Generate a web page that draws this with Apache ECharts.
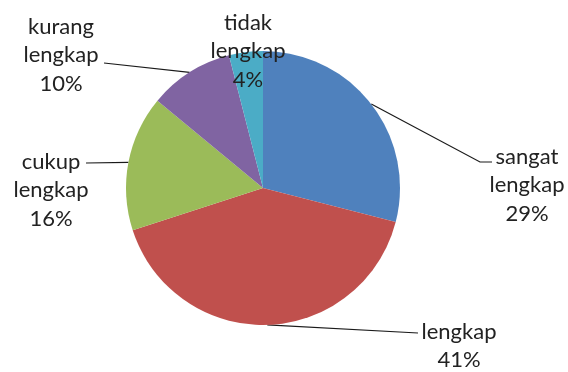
<!DOCTYPE html>
<html>
<head>
<meta charset="utf-8">
<script src="https://cdn.jsdelivr.net/npm/echarts@6/dist/echarts.min.js"></script>
<style>
  html, body { margin: 0; padding: 0; background: #fff; }
  #chart { width: 568px; height: 372px; }
</style>
</head>
<body>
<div id="chart"></div>
<script>
// Kelengkapan: share of each category (percent)
const categories = ['sangat lengkap', 'lengkap', 'cukup lengkap', 'kurang lengkap', 'tidak lengkap'];
const values = [29, 41, 16, 10, 4];
const colors = ['#4F81BD', '#C0504D', '#9BBB59', '#8064A2', '#4BACC6'];

// Where each label block sits and how its leader line bends (null = no leader)
const labelPlacement = [
  { x: 527, y: 185, line: [[480, 162], [492, 162]] },
  { x: 459, y: 346, line: [[418, 333], [418, 333]] },
  { x: 51,  y: 190, line: [[86, 163], [86, 163]] },
  { x: 61,  y: 55,  line: [[104, 63], [104, 63]] },
  { x: 248, y: 51,  line: null }
];

const chart = echarts.init(document.getElementById('chart'), null, { renderer: 'canvas' });

chart.setOption({
  animation: false,
  backgroundColor: '#ffffff',
  series: [{
    type: 'pie',
    center: [263, 188],
    radius: 137,
    startAngle: 90,
    clockwise: true,
    data: categories.map((name, i) => ({
      name,
      value: values[i],
      itemStyle: { color: colors[i] },
      labelLine: { show: labelPlacement[i].line !== null }
    })),
    label: {
      show: true,
      position: 'outside',
      overflow: 'none',
      formatter: p => p.name.replace(' ', '\n') + '\n' + p.value + '%',
      fontFamily: 'Lato',
      fontSize: 22,
      lineHeight: 28.5,
      color: '#222222',
      align: 'center'
    },
    labelLine: {
      show: true,
      lineStyle: { color: '#1a1a1a', width: 1.2 }
    },
    labelLayout: params => {
      const spot = labelPlacement[params.dataIndex];
      const layout = {
        x: spot.x,
        y: spot.y,
        align: 'center',
        verticalAlign: 'middle'
      };
      if (spot.line && params.labelLinePoints) {
        layout.labelLinePoints = [params.labelLinePoints[0], spot.line[0], spot.line[1]];
      }
      return layout;
    },
    emphasis: { disabled: true }
  }]
});
</script>
</body>
</html>
